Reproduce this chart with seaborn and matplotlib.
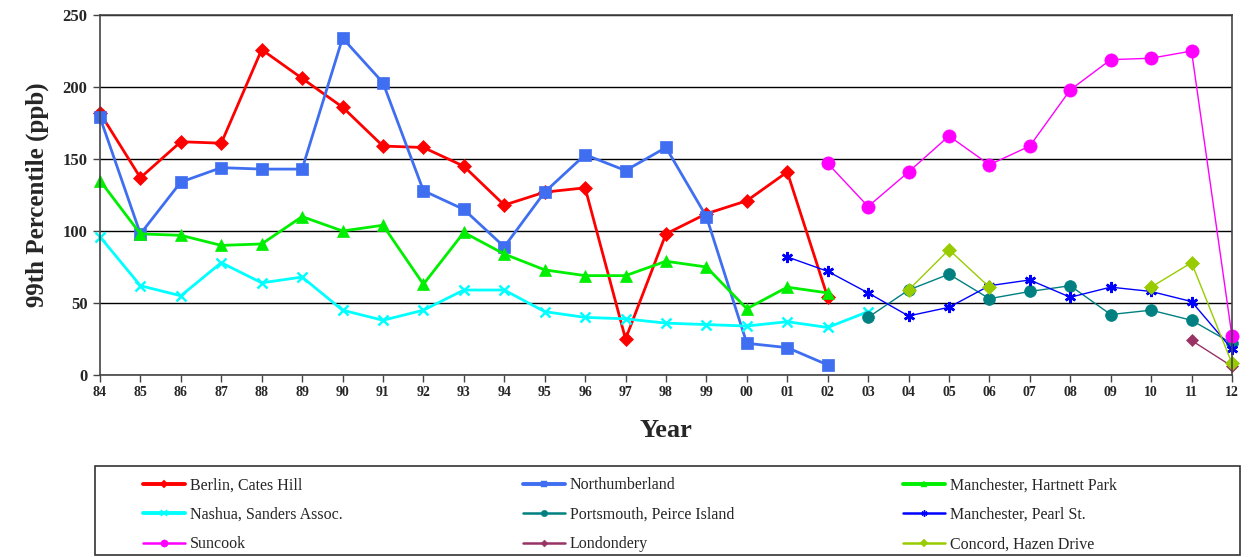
import numpy as np
import pandas as pd
import matplotlib
matplotlib.use("Agg")
import matplotlib.pyplot as plt
import seaborn as sns
from matplotlib.lines import Line2D
from matplotlib.patches import Rectangle

sns.set_style("white")
plt.rcParams['font.family'] = ['Liberation Serif', 'DejaVu Serif']

N = None
years = ['84', '85', '86', '87', '88', '89', '90', '91', '92', '93', '94', '95', '96', '97',
         '98', '99', '00', '01', '02', '03', '04', '05', '06', '07', '08', '09', '10', '11', '12']

berlin = [182, 137, 162, 161, 226, 206, 186, 159, 158, 145, 118, 127, 130, 25,
          98, 112, 121, 141, 54, N, N, N, N, N, N, N, N, N, N]
northumberland = [179, 98, 134, 144, 143, 143, 234, 203, 128, 115, 89, 127, 153, 142,
                  158, 110, 22, 19, 7, N, N, N, N, N, N, N, N, N, N]
hartnett = [135, 98, 97, 90, 91, 110, 100, 104, 63, 99, 84, 73, 69, 69,
            79, 75, 46, 61, 57, N, N, N, N, N, N, N, N, N, N]
nashua = [96, 62, 55, 78, 64, 68, 45, 38, 45, 59, 59, 44, 40, 39,
          36, 35, 34, 37, 33, 44, N, N, N, N, N, N, N, N, N]
portsmouth = [N] * 19 + [40, 59, 70, 53, 58, 62, 42, 45, 38, 22]
pearl = [N] * 17 + [82, 72, 57, 41, 47, 62, 66, 54, 61, 58, 51, 18]
suncook = [N] * 18 + [147, 117, 141, 166, 146, 159, 198, 219, 220, 225, 27]
londondery = [N] * 27 + [24, 6]
concord = [N] * 20 + [59, 87, 61, N, N, N, 61, 78, 8]

series = [
    ("Berlin, Cates Hill", berlin, "#FF0000", "D", 7, 2.0),
    ("Northumberland", northumberland, "#3F6FF0", "s", 8, 2.0),
    ("Manchester, Hartnett Park", hartnett, "#00EE00", "^", 8, 2.0),
    ("Nashua, Sanders Assoc.", nashua, "#00FFFF", "x", 7, 2.0),
    ("Portsmouth, Peirce Island", portsmouth, "#008080", "o", 8.5, 1.0),
    ("Manchester, Pearl St.", pearl, "#0000FF", (6, 2, 0), 8, 1.0),
    ("Suncook", suncook, "#FF00FF", "o", 9.5, 1.0),
    ("Londondery", londondery, "#993366", "D", 6.5, 1.0),
    ("Concord, Hazen Drive", concord, "#99CC00", "D", 7.5, 1.0),
]

fig = plt.figure(figsize=(12.53, 5.57), dpi=100)
ax = fig.add_axes([0.0798, 0.3268, 0.9034, 0.6462])

handles = {}
for name, vals, color, marker, ms, lw in series:
    df = pd.DataFrame({"x": np.arange(len(years)), "y": pd.array(vals, dtype="Float64")})
    df["y"] = df["y"].astype(float)
    # split into contiguous segments so gaps stay gaps
    df["seg"] = df["y"].isna().cumsum()
    df = df.dropna()
    mew = 1.8 if marker in ("x",) or isinstance(marker, tuple) else 0.5
    sns.lineplot(data=df, x="x", y="y", units="seg", estimator=None, ax=ax,
                 color=color, marker=marker, markersize=ms, linewidth=lw,
                 markeredgecolor=color, markeredgewidth=mew, sort=False, legend=False)
    handles[name] = Line2D([], [], color=color, marker=marker, markersize=ms * 0.55,
                           linewidth=lw + 0.8, markeredgecolor=color, markeredgewidth=mew * 0.6)

for line in ax.lines:
    line.set_clip_on(False)

ax.set_xlim(0, len(years) - 1)
ax.set_ylim(0, 250)
ax.set_xticks(np.arange(len(years)))
ax.set_xticklabels(years)
ax.set_yticks([0, 50, 100, 150, 200, 250])
ax.yaxis.grid(True, color="black", linewidth=1.0)
ax.set_axisbelow(True)
for s in ax.spines.values():
    s.set_color("#444444")
    s.set_linewidth(1.2)
ax.tick_params(axis="both", which="both", direction="out", length=5, width=1, color="#444444",
               bottom=True, left=True)
ax.tick_params(axis="x", labelsize=10, pad=3)
ax.tick_params(axis="y", labelsize=12, pad=4)
for lab in ax.get_xticklabels() + ax.get_yticklabels():
    lab.set_fontweight("bold")

ax.set_xlabel("Year", fontsize=19, fontweight="bold", labelpad=14)
ax.set_ylabel("99th Percentile (ppb)", fontsize=18, fontweight="bold", labelpad=10)

# legend frame
fig.patches.append(Rectangle((95 / 1253, 2 / 557), 1145 / 1253, 89 / 557,
                             transform=fig.transFigure, fill=False,
                             edgecolor="#333333", linewidth=1.2))
cols = [["Berlin, Cates Hill", "Nashua, Sanders Assoc.", "Suncook"],
        ["Northumberland", "Portsmouth, Peirce Island", "Londondery"],
        ["Manchester, Hartnett Park", "Manchester, Pearl St.", "Concord, Hazen Drive"]]
for xpix, names in zip([132, 512, 892], cols):
    fig.legend([handles[n] for n in names], names, loc="upper left",
               bbox_to_anchor=(xpix / 1253, 1 - 466 / 557), frameon=False,
               fontsize=11.5, handlelength=2.6, handletextpad=0.3, labelspacing=0.85,
               borderpad=0.2)

fig.savefig("out.png", dpi=100)
